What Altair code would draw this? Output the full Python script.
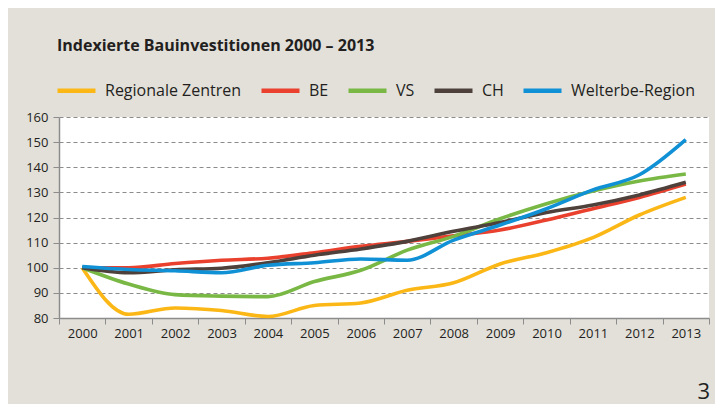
import altair as alt
import pandas as pd

YEARS = [str(y) for y in range(2000, 2014)]
SERIES = ["Regionale Zentren", "BE", "VS", "CH", "Welterbe-Region"]
COLORS = ["#FBB716", "#E9412E", "#79B844", "#4E403A", "#1090D5"]

regionale_zentren = [100, 81.5, 84, 83, 80.6, 85, 86, 91, 94, 101.5, 106, 112, 121, 128]
be = [100, 100, 101.7, 103, 103.8, 106, 108.5, 110.5, 112.7, 115, 119, 123.5, 128, 133.3]
vs = [100, 93.5, 89.3, 88.7, 88.5, 94.5, 99, 107, 112.5, 119.5, 125.5, 130.5, 134.5, 137.3]
ch = [100, 98, 99.2, 99.8, 102, 105, 107.5, 110.5, 114.5, 118, 122, 125, 129, 134]
welterbe = [100.5, 99.3, 98.8, 98, 101, 102, 103.5, 103, 111, 117, 123.5, 131, 137, 151]

Y_TICKS = list(range(80, 161, 10))
TITLE = "Indexierte Bauinvestitionen 2000 – 2013"
PAGE_NUMBER = "3"

values = [regionale_zentren, be, vs, ch, welterbe]
rows = []
for name, vals in zip(SERIES, values):
    for yr, v in zip(YEARS, vals):
        rows.append({"Jahr": yr, "Index": v, "Serie": name})
df = pd.DataFrame(rows)

FONT = "Open Sans"
TEXT = "#231F20"
GRID = "#8C8C8C"

lines = alt.Chart(df).mark_line(strokeWidth=3.6, interpolate="monotone").encode(
    x=alt.X("Jahr:O", sort=YEARS,
            scale=alt.Scale(type="band", paddingInner=0, paddingOuter=0),
            axis=alt.Axis(title=None, labelAngle=0, tickBand="extent", ticks=True,
                          tickSize=6, tickColor=GRID, domainColor=GRID, domainWidth=1.5,
                          labelFontSize=13, labelColor=TEXT, labelFont=FONT,
                          labelPadding=3, grid=False)),
    y=alt.Y("Index:Q", scale=alt.Scale(domain=[80, 160], nice=False, zero=False),
            axis=alt.Axis(title=None, values=Y_TICKS, grid=True, gridDash=[4, 3],
                          gridColor=GRID, gridWidth=1, tickSize=6, tickColor=GRID,
                          domainColor=GRID, domainWidth=1.5, labelFontSize=13,
                          labelColor=TEXT, labelFont=FONT, labelPadding=5)),
    color=alt.Color("Serie:N", sort=SERIES,
                    scale=alt.Scale(domain=SERIES, range=COLORS),
                    legend=alt.Legend(title=None, orient="none", direction="horizontal",
                                      legendX=-4, legendY=-48, columns=5,
                                      symbolType="stroke", symbolSize=1444,
                                      symbolStrokeWidth=4.5, labelFontSize=16,
                                      labelFont=FONT, labelColor=TEXT, labelOffset=7,
                                      columnPadding=10, padding=0)),
    order=alt.Order("order:Q"),
).transform_calculate(
    order="indexof(%s, datum.Serie)" % str(SERIES)
)

page_df = pd.DataFrame({"t": [PAGE_NUMBER]})
page = alt.Chart(page_df).mark_text(align="right", baseline="alphabetic", fontSize=22,
                                   font=FONT, color=TEXT).encode(
    text="t:N", x=alt.value(651), y=alt.value(282))

chart = alt.layer(lines, page).properties(
    width=650, height=201,
    title=alt.Title(TITLE, anchor="start", frame="group", offset=15, dx=-2,
                    fontSize=16, font=FONT, fontWeight="bold", color=TEXT),
    background="#E3E0DA",
    padding={"left": 51, "top": 109, "right": 6, "bottom": 86},
    autosize=alt.AutoSizeParams(type="none"),
).configure_view(fill="white", stroke=None)

chart.save("out.html", embed_options={"renderer": "svg", "actions": False})
